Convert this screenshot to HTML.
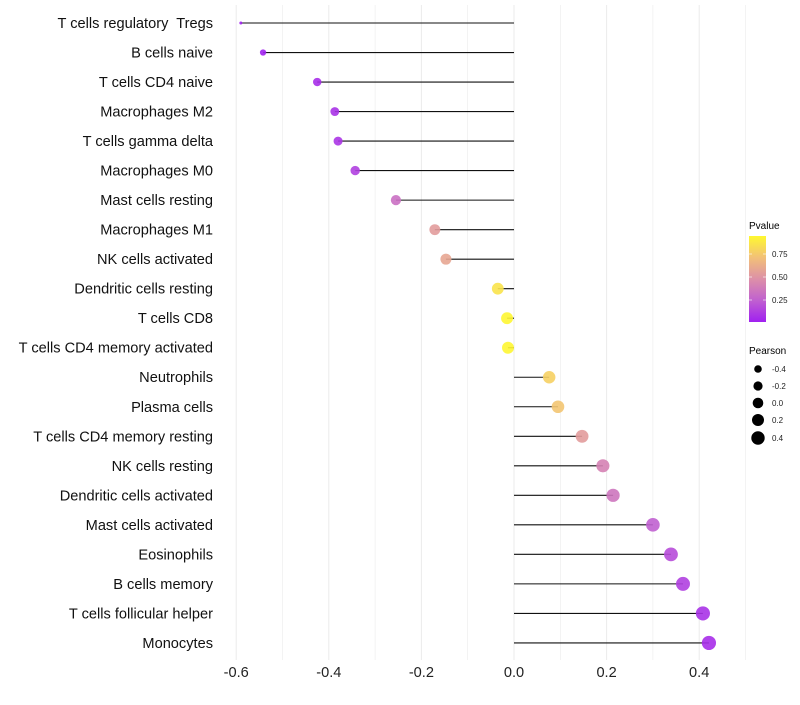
<!DOCTYPE html>
<html><head><meta charset="utf-8"><style>
body{margin:0;background:#fff;font-family:"Liberation Sans",Arial,sans-serif}
svg text{white-space:pre}
</style></head><body>
<svg id="chart" width="800" height="700" xmlns="http://www.w3.org/2000/svg">
<defs><linearGradient id="pg" x1="0" y1="1" x2="0" y2="0">
<stop offset="0" stop-color="#A020F0"/><stop offset="0.25" stop-color="#C060D0"/><stop offset="0.5" stop-color="#DD90A8"/><stop offset="0.75" stop-color="#F2C078"/><stop offset="1" stop-color="#FFF830"/>
</linearGradient></defs>
<g id="grid"></g><g id="marks"></g><g id="labels"></g>
<g>
<text x="749" y="229" font-size="10">Pvalue</text>
<rect x="749" y="236" width="17" height="86" fill="url(#pg)"/>
<line x1="749" x2="752" y1="254" y2="254" stroke="#fff" opacity=".6"/><line x1="763" x2="766" y1="254" y2="254" stroke="#fff" opacity=".6"/>
<line x1="749" x2="752" y1="277" y2="277" stroke="#fff" opacity=".6"/><line x1="763" x2="766" y1="277" y2="277" stroke="#fff" opacity=".6"/>
<line x1="749" x2="752" y1="300" y2="300" stroke="#fff" opacity=".6"/><line x1="763" x2="766" y1="300" y2="300" stroke="#fff" opacity=".6"/>
<text x="772" y="257" font-size="8" fill="#222">0.75</text>
<text x="772" y="280" font-size="8" fill="#222">0.50</text>
<text x="772" y="303" font-size="8" fill="#222">0.25</text>
</g>
<g>
<text x="749" y="354" font-size="10">Pearson</text>
<circle cx="758" cy="369" r="3.8"/><text x="772" y="372" font-size="8" fill="#222">-0.4</text>
<circle cx="758" cy="386" r="4.6"/><text x="772" y="389" font-size="8" fill="#222">-0.2</text>
<circle cx="758" cy="403" r="5.3"/><text x="772" y="406" font-size="8" fill="#222">0.0</text>
<circle cx="758" cy="420" r="6"/><text x="772" y="423" font-size="8" fill="#222">0.2</text>
<circle cx="758" cy="438" r="6.7"/><text x="772" y="441" font-size="8" fill="#222">0.4</text>
</g>
</svg>
<script>
const cells=["T cells regulatory  Tregs","B cells naive","T cells CD4 naive","Macrophages M2","T cells gamma delta","Macrophages M0","Mast cells resting","Macrophages M1","NK cells activated","Dendritic cells resting","T cells CD8","T cells CD4 memory activated","Neutrophils","Plasma cells","T cells CD4 memory resting","NK cells resting","Dendritic cells activated","Mast cells activated","Eosinophils","B cells memory","T cells follicular helper","Monocytes"];
const pearson=[-0.59,-0.542,-0.425,-0.387,-0.38,-0.343,-0.255,-0.171,-0.147,-0.035,-0.015,-0.013,0.076,0.095,0.147,0.192,0.214,0.30,0.339,0.365,0.408,0.421];
const pvalue=[0.01,0.02,0.06,0.08,0.09,0.13,0.33,0.55,0.6,0.88,0.96,0.96,0.8,0.75,0.55,0.42,0.36,0.25,0.18,0.13,0.08,0.06];
const xTicks=[-0.6,-0.4,-0.2,0.0,0.2,0.4];
const NS="http://www.w3.org/2000/svg";
const x=v=>514+v*463;
const y=i=>23+i*29.52;
const rr=v=>1.5+5.6*Math.pow(Math.max(0,(v+0.59)/1.01),0.4);
const stops=[[0,[160,32,240]],[0.25,[192,96,208]],[0.5,[221,144,168]],[0.75,[242,192,120]],[1,[255,248,48]]];
function col(p){const t=Math.max(0,Math.min(1,(p-0.01)/0.96));for(let k=1;k<stops.length;k++){if(t<=stops[k][0]){const a=stops[k-1],b=stops[k],f=(t-a[0])/(b[0]-a[0]);return "rgb("+a[1].map((c,j)=>Math.round(c+(b[1][j]-c)*f)).join(",")+")";}}return "rgb(255,248,48)";}
function mk(tag,attrs,parent){const e=document.createElementNS(NS,tag);for(const k in attrs)e.setAttribute(k,attrs[k]);parent.appendChild(e);return e;}
const grid=document.getElementById('grid'),marks=document.getElementById('marks'),labels=document.getElementById('labels');
for(let g=-0.6;g<=0.51;g+=0.1){const l=mk('line',{x1:x(g),x2:x(g),y1:5,y2:660,stroke:'#ebebeb','stroke-width':Math.abs(Math.round(g*10))%2===0?1:0.6},grid);}
xTicks.forEach(t=>{const e=mk('text',{x:x(t),y:677,'font-size':14.6,'text-anchor':'middle',fill:'#222'},labels);e.textContent=t.toFixed(1);});
cells.forEach((c,i)=>{
const t=mk('text',{x:213,y:y(i)+5,'font-size':14.6,'text-anchor':'end',fill:'#111'},labels);t.textContent=c;


const l=mk('line',{x1:x(0),x2:x(pearson[i]),y1:y(i),y2:y(i),stroke:'#111','stroke-width':1.1},marks);


const p=mk('circle',{cx:x(pearson[i]),cy:y(i),r:rr(pearson[i]),fill:col(pvalue[i]),'fill-opacity':0.9},marks);


});
</script>
</body></html>
